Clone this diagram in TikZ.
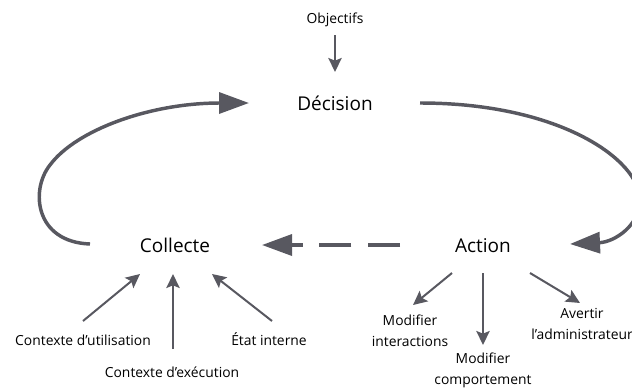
\documentclass[tikz,border=0pt]{standalone}
\usepackage{fontspec}
\setmainfont{Open Sans}
\usetikzlibrary{arrows.meta,calc}
\definecolor{ink}{RGB}{88,88,96}
\tikzset{
  big/.style={font=\fontsize{14.25}{17}\selectfont, inner sep=0pt, anchor=base},
  small/.style={font=\fontsize{10.4}{15.75}\selectfont, inner sep=0pt, anchor=base},
  multi/.style={font=\fontsize{10.4}{15.75}\selectfont, inner sep=0pt, align=center},
  loop/.style={draw=ink, line width=2.6pt, -{Triangle[length=22.5pt,width=15.75pt]}},
  dasharrow/.style={draw=ink, line width=2.6pt, dash pattern=on 24pt off 12.4pt, -{Triangle[length=22.5pt,width=15.75pt]}},
  thin/.style={draw=ink, line width=1.5pt, -{Stealth[length=10.5pt,width=10pt,inset=2pt]}}
}
\begin{document}
\begin{tikzpicture}[x=0.75pt,y=-0.75pt]
\useasboundingbox (0,0) rectangle (632,387);
\node[small] (obj) at (335,23) {Objectifs};
\node[big] (dec) at (335,110) {Décision};
\node[big] (col) at (175,252) {Collecte};
\node[big] (act) at (483,252) {Action};
\node[small] (cu) at (83,345) {Contexte d’utilisation};
\node[small] (ce) at (172,377) {Contexte d’exécution};
\node[small] (ei) at (269,345) {État interne};
\node[multi] (mi) at (410,331) {Modifier\\interactions};
\node[multi] (mc) at (483,370) {Modifier\\comportement};
\node[multi] (av) at (582,324) {Avertir\\l’administrateur};

\draw[thin] ($(obj.base)+(0,12)$) -- ($(dec.base)+(0,-38)$);
\draw[loop] ($(col.base)+(-85,-8)$) .. controls (35,242) and (30,190) .. (50,165)
  .. controls (76,130) and (150,103) .. ($(dec.base)+(-86,-7)$);
\draw[loop] ($(dec.base)+(85,-7)$) .. controls (560,103) and (640,160) .. (640,200)
  .. controls (640,225) and (615,242) .. ($(act.base)+(87,-8)$);
\draw[dasharrow] ($(act.base)+(-83,-7)$) -- ($(col.base)+(87,-7)$);

\draw[thin] ($(cu.base)+(0,-24)$) -- ($(col.base)+(-35,22)$);
\draw[thin] ($(ce.base)+(1,-28)$) -- ($(col.base)+(-2,22)$);
\draw[thin] ($(ei.base)+(3,-24)$) -- ($(col.base)+(37,22)$);
\draw[thin] ($(act.base)+(-31,21)$) -- ($(mi)+(3,-26)$);
\draw[thin] ($(act.base)+(0,21)$) -- ($(mc)+(0,-25)$);
\draw[thin] ($(act.base)+(47,21)$) -- ($(av)+(-2,-21)$);
\end{tikzpicture}
\end{document}
